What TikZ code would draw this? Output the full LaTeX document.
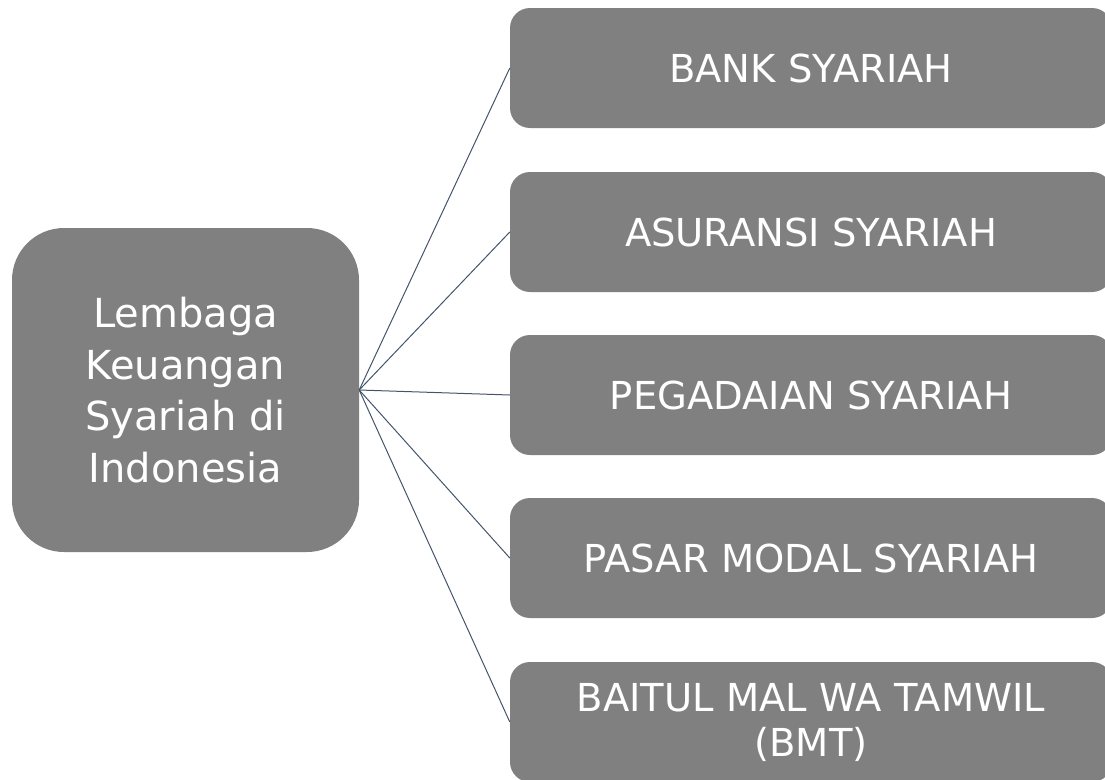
\documentclass[tikz,border=0pt]{standalone}
\usepackage{fontspec}
\setmainfont{DejaVu Sans}
\definecolor{boxgray}{HTML}{808080}
\definecolor{linkblue}{HTML}{44546A}
\begin{document}
\begin{tikzpicture}[x=1pt,y=-1pt,
  mainbox/.style={fill=boxgray, text=white, inner sep=0pt, align=center,
    rounded corners=52pt, minimum width=347pt, minimum height=324pt,
    font=\fontsize{40}{51.5}\selectfont},
  subbox/.style={fill=boxgray, text=white, inner sep=0pt, align=center,
    rounded corners=20pt, minimum width=602pt, minimum height=120pt,
    font=\fontsize{38.5}{45}\selectfont},
  link/.style={draw=linkblue, line width=1pt}]
\useasboundingbox (0,0) rectangle (1105,779);
\node[mainbox] (L) at (185.5,390) {Lembaga\\Keuangan\\Syariah di\\Indonesia};
\node[subbox] (b1) at (811,68) {BANK SYARIAH};
\node[subbox] (b2) at (811,232) {ASURANSI SYARIAH};
\node[subbox] (b3) at (811,395) {PEGADAIAN SYARIAH};
\node[subbox] (b4) at (811,558) {PASAR MODAL SYARIAH};
\node[subbox] (b5) at (811,722) {BAITUL MAL WA TAMWIL\\(BMT)};
\foreach \b in {b1,b2,b3,b4,b5}{
  \draw[link] (L.east) -- (\b.west);
}
\end{tikzpicture}
\end{document}
